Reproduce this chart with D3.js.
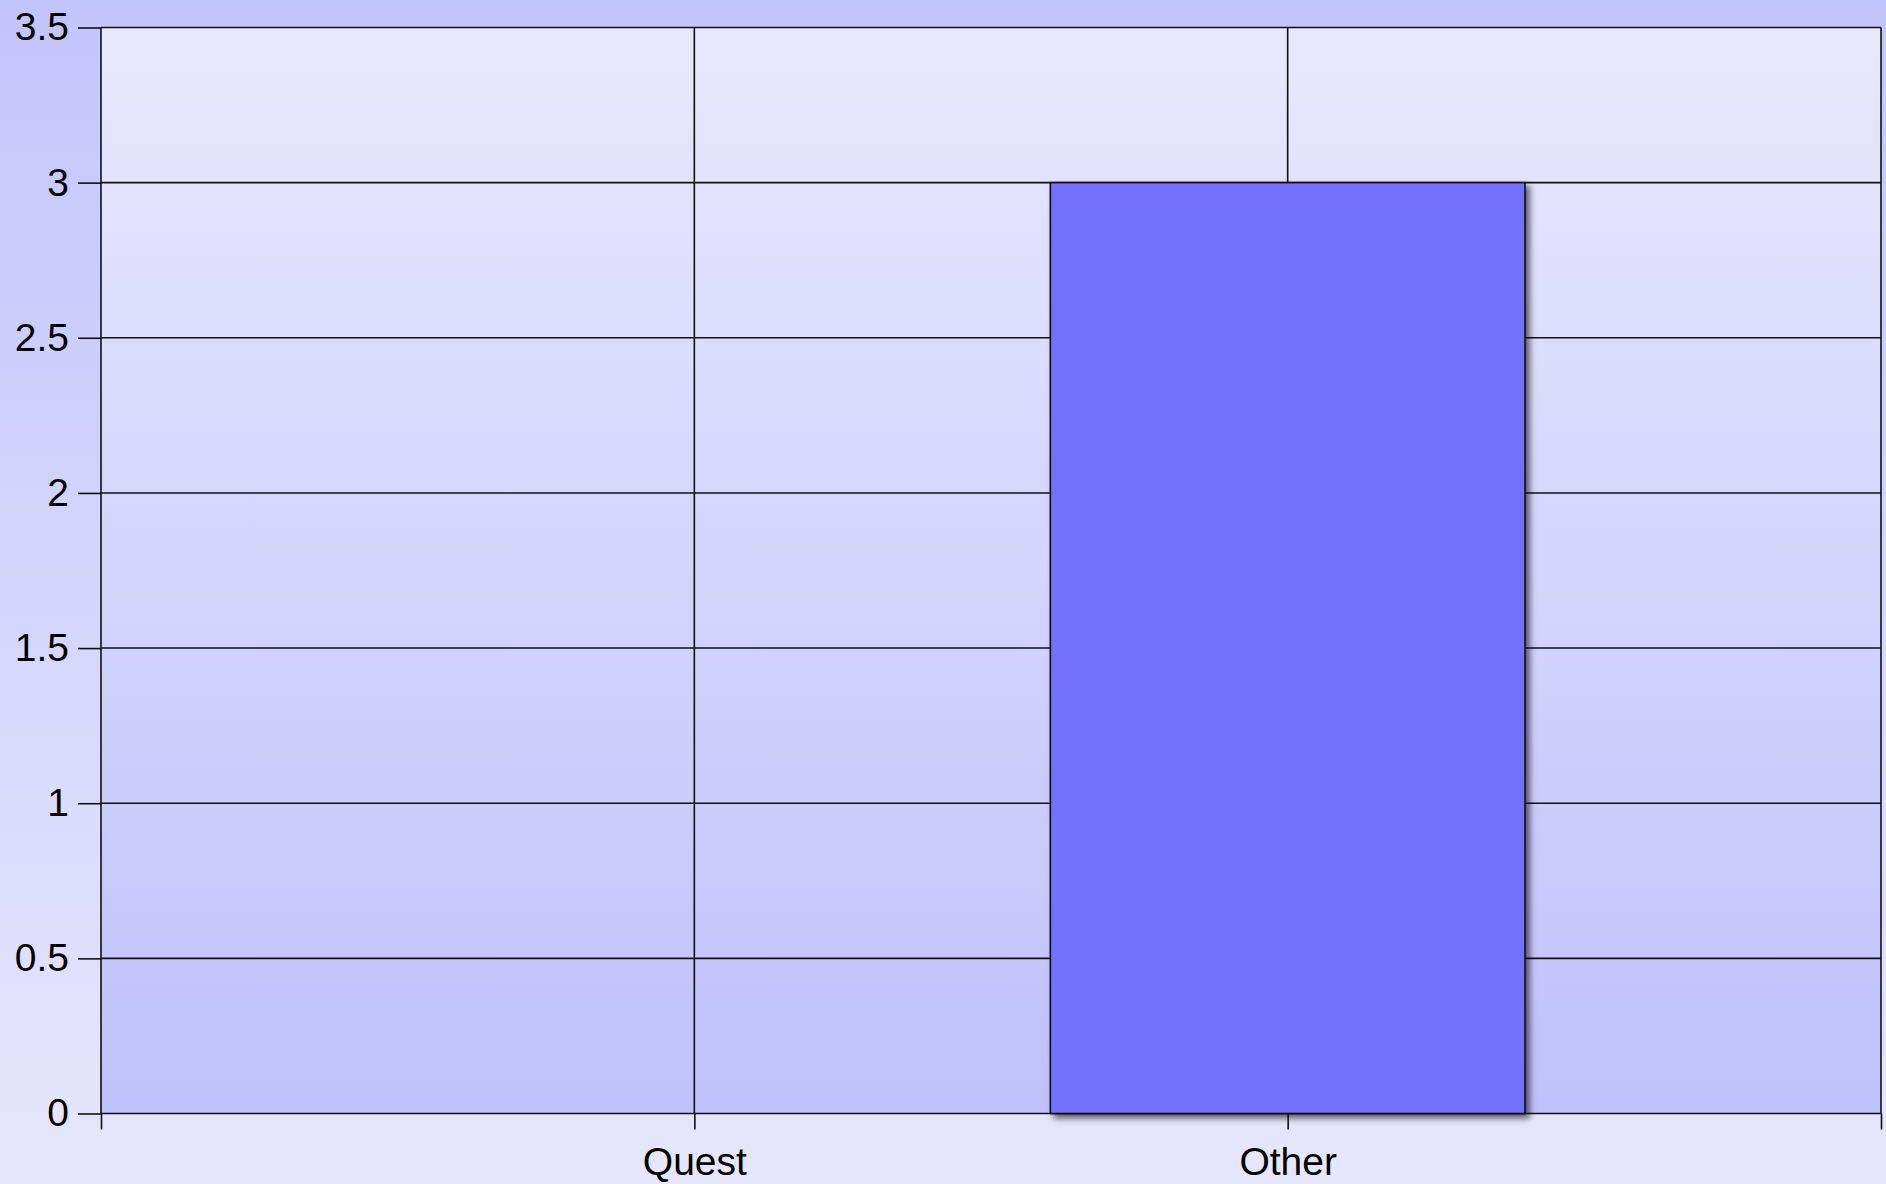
<!DOCTYPE html>
<html>
<head>
<meta charset="utf-8">
<script src="https://cdn.jsdelivr.net/npm/d3@7"></script>
<style>
  body { margin: 0; overflow: hidden; }
  text { font-family: "Liberation Sans", Arial, sans-serif; fill: #000; }
</style>
</head>
<body>
<div id="chart"></div>
<script>
// Chart data
var categories = ["Quest", "Other"]
var values = [0, 3]
var yTicks = [0, 0.5, 1, 1.5, 2, 2.5, 3, 3.5]

// Size of the picture
var width = 1886
var height = 1184
var margin = { top: 27.5, right: 5, bottom: 70.5, left: 101 }

var svg = d3.select("#chart")
  .append("svg")
  .attr("width", width)
  .attr("height", height)

var defs = svg.append("defs")

// background gradients
var outerGrad = defs.append("linearGradient")
  .attr("id", "outerGrad").attr("x1", 0).attr("y1", 0).attr("x2", 0).attr("y2", 1)
outerGrad.append("stop").attr("offset", "0%").attr("stop-color", "#c4c4fc")
outerGrad.append("stop").attr("offset", "100%").attr("stop-color", "#e6e6fc")

var plotGrad = defs.append("linearGradient")
  .attr("id", "plotGrad").attr("x1", 0).attr("y1", 0).attr("x2", 0).attr("y2", 1)
plotGrad.append("stop").attr("offset", "0%").attr("stop-color", "#e8e8fd")
plotGrad.append("stop").attr("offset", "100%").attr("stop-color", "#c0c0fc")

// shadow under the bar
var shadow = defs.append("filter").attr("id", "shadow")
  .attr("x", "-10%").attr("y", "-10%").attr("width", "130%").attr("height", "130%")
shadow.append("feDropShadow")
  .attr("dx", 4).attr("dy", 4).attr("stdDeviation", 3)
  .attr("flood-color", "#000").attr("flood-opacity", 0.6)

svg.append("rect")
  .attr("width", width).attr("height", height)
  .attr("fill", "url(#outerGrad)")

var plotW = width - margin.left - margin.right
var plotH = height - margin.top - margin.bottom

var g = svg.append("g").attr("transform", "translate(" + margin.left + "," + margin.top + ")")

// scales: categories sit at 1..n, with an empty slot on each end
var x = d3.scaleLinear().domain([0, categories.length + 1]).range([0, plotW])
var y = d3.scaleLinear().domain([0, 3.5]).range([plotH, 0])
var step = x(1) - x(0)
var barWidth = step * 0.8

g.append("rect")
  .attr("width", plotW).attr("height", plotH)
  .attr("fill", "url(#plotGrad)")

// grid lines
g.append("g")
  .selectAll("line")
  .data(yTicks)
  .enter()
  .append("line")
    .attr("x1", 0).attr("x2", plotW)
    .attr("y1", function(d){ return y(d) })
    .attr("y2", function(d){ return y(d) })
    .attr("stroke", "#111").attr("stroke-width", 1.6)

var xTickVals = d3.range(categories.length + 2)
g.append("g")
  .selectAll("line")
  .data(xTickVals)
  .enter()
  .append("line")
    .attr("x1", function(d){ return x(d) })
    .attr("x2", function(d){ return x(d) })
    .attr("y1", 0).attr("y2", plotH)
    .attr("stroke", "#111").attr("stroke-width", 1.6)

// bars
g.selectAll(".bar")
  .data(values)
  .enter()
  .filter(function(d){ return d > 0 })
  .append("rect")
    .attr("class", "bar")
    .attr("x", function(d){ return x(values.indexOf(d) + 1) - barWidth / 2 })
    .attr("y", function(d){ return y(d) })
    .attr("width", barWidth)
    .attr("height", function(d){ return plotH - y(d) })
    .attr("fill", "#7272ff")
    .attr("stroke", "#111")
    .attr("stroke-width", 1.6)
    .attr("filter", "url(#shadow)")

// axes
var yAxis = d3.axisLeft(y)
  .tickValues(yTicks)
  .tickSize(23)
  .tickPadding(9)
  .tickFormat(function(d){ return d3.format("")(d) })

g.append("g")
  .attr("class", "y axis")
  .call(yAxis)
  .call(function(sel){
    sel.select(".domain").remove()
    sel.selectAll("line").attr("stroke", "#111").attr("stroke-width", 1.6)
    sel.selectAll("text").style("font-size", "39px").attr("fill", "#000")
  })

var xAxis = d3.axisBottom(x)
  .tickValues(xTickVals)
  .tickSize(16)
  .tickPadding(18)
  .tickFormat(function(d){ return categories[d - 1] || "" })

g.append("g")
  .attr("class", "x axis")
  .attr("transform", "translate(0," + plotH + ")")
  .call(xAxis)
  .call(function(sel){
    sel.select(".domain").remove()
    sel.selectAll("line").attr("stroke", "#111").attr("stroke-width", 1.6)
    sel.selectAll("text").style("font-size", "39px").attr("fill", "#000")
  })
</script>
</body>
</html>
